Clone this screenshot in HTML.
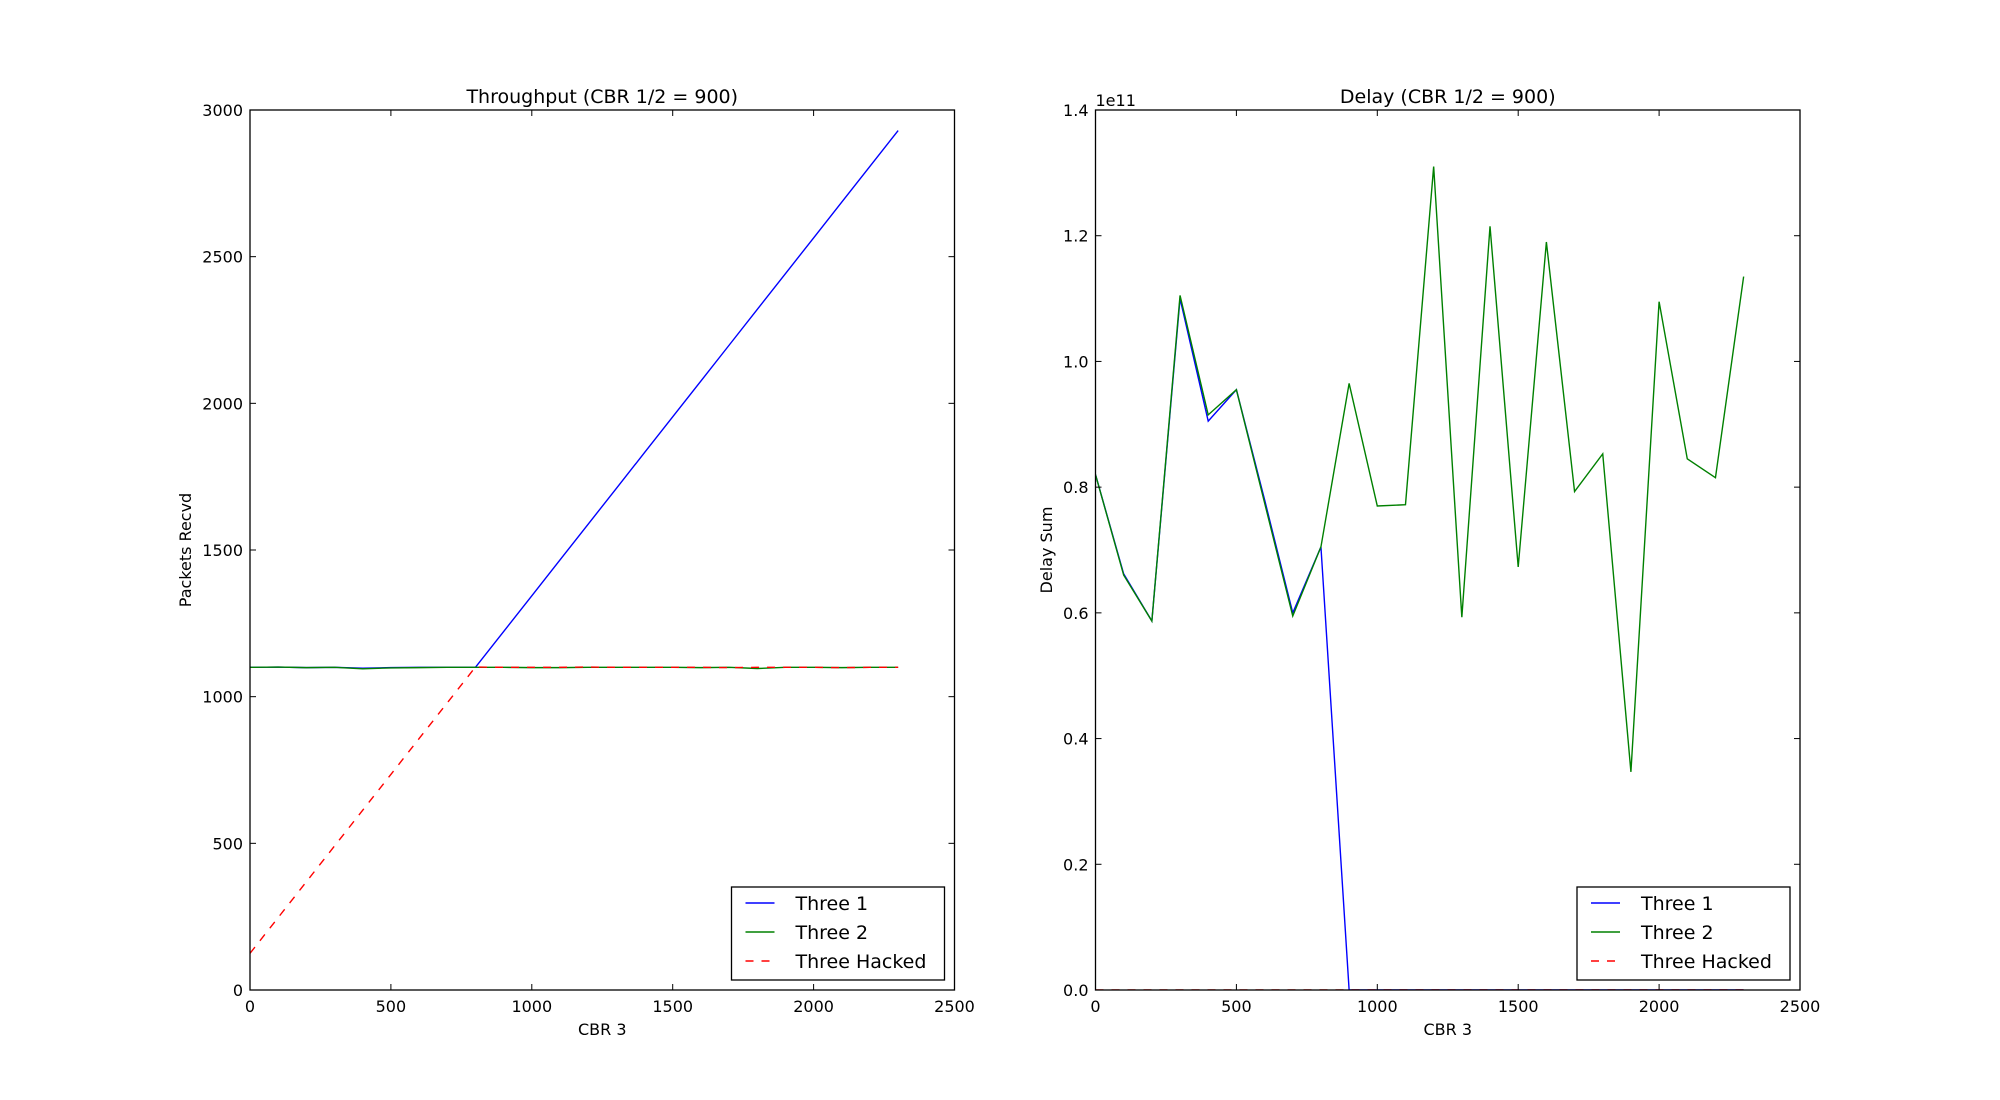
<!DOCTYPE html>
<html><head><meta charset="utf-8"><style>
body{margin:0;background:#fff}
svg{display:block;font-family:"DejaVu Sans","Liberation Sans",sans-serif}
</style></head><body>
<svg id="fig" width="2000" height="1100" viewBox="0 0 2000 1100" xmlns="http://www.w3.org/2000/svg">
<rect width="2000" height="1100" fill="#fff"/>
</svg>
<script>
const xs = [0,100,200,300,400,500,600,700,800,900,1000,1100,1200,1300,1400,1500,1600,1700,1800,1900,2000,2100,2200,2300];
const tpThree1 = [1100,1101,1099,1100,1097,1099,1100,1100,1100,1222,1344,1466,1588,1710,1832,1954,2076,2198,2320,2442,2564,2686,2808,2930];
const tpThree2 = [1100,1101,1099,1100,1095,1098,1099,1100,1100,1100,1099,1099,1100,1100,1100,1100,1099,1100,1096,1100,1100,1099,1100,1100];
const tpHacked = [125,247,369,491,613,735,857,979,1101,1100,1100,1100,1101,1100,1100,1100,1100,1099,1100,1100,1100,1099,1100,1100];
const dlThree1 = [8.2,6.62,5.87,11.0,9.05,9.55,7.8,6.0,7.05,0,0,0,0,0,0,0,0,0,0,0,0,0,0,0];
const dlThree2 = [8.2,6.6,5.87,11.05,9.15,9.55,7.75,5.95,7.05,9.65,7.7,7.72,13.1,5.93,12.15,6.73,11.9,7.93,8.53,3.47,10.95,8.45,8.15,11.35];
const dlHacked = [0,0,0,0,0,0,0,0,0,0,0,0,0,0,0,0,0,0,0,0,0,0,0,0];
const xTicks = [0,500,1000,1500,2000,2500];
const tpYTicks = [0,500,1000,1500,2000,2500,3000];
const dlYTicks = [0,2,4,6,8,10,12,14];
const dlYLabels = ["0.0","0.2","0.4","0.6","0.8","1.0","1.2","1.4"];
const legendLabels = ["Three 1","Three 2","Three Hacked"];

const NS="http://www.w3.org/2000/svg";
const svg=document.getElementById('fig');
function mk(tag,attrs,parent){const e=document.createElementNS(NS,tag);for(const k in attrs)e.setAttribute(k,attrs[k]);(parent||svg).appendChild(e);return e;}

function drawAxes(cfg){
  const {L,R,T,B,yMax,yTicks,yLabels,title,ylabel,series,name,offsetText}=cfg;
  const g=mk('g',{});
  
  
  const sx=v=>L+(v-0)/2500*(R-L);
  const sy=v=>B-v/yMax*(B-T);
  const cid='clip-'+name;
  const cp=mk('clipPath',{id:cid},g);mk('rect',{x:L,y:T,width:R-L,height:B-T},cp);
  const colors=['#0000ff','#008000','#ff0000'];
  series.forEach((s,i)=>{
    const d=xs.map((x,j)=>(j?'L':'M')+sx(x).toFixed(2)+' '+sy(s[j]).toFixed(2)).join(' ');
    const p=mk('path',{d:d,fill:'none',stroke:colors[i],'stroke-width':1.4,'clip-path':'url(#'+cid+')'},g);
    if(i===2)p.setAttribute('stroke-dasharray','8 8');
    
    
  });
  const fr=mk('rect',{x:L,y:T,width:R-L,height:B-T,fill:'none',stroke:'#000','stroke-width':1.3},g);
  
  
  xTicks.forEach(v=>{
    const x=sx(v);
    mk('line',{x1:x,x2:x,y1:B,y2:B-6,stroke:'#000','stroke-width':1},g);
    mk('line',{x1:x,x2:x,y1:T,y2:T+6,stroke:'#000','stroke-width':1},g);
    const t=mk('text',{x:x,y:B+22,'text-anchor':'middle','font-size':16},g);
    t.textContent=v;
    
    
  });
  yTicks.forEach((v,i)=>{
    const y=sy(v);
    mk('line',{x1:L,x2:L+6,y1:y,y2:y,stroke:'#000','stroke-width':1},g);
    mk('line',{x1:R,x2:R-6,y1:y,y2:y,stroke:'#000','stroke-width':1},g);
    const t=mk('text',{x:L-7,y:y+6,'text-anchor':'end','font-size':16},g);
    t.textContent=yLabels?yLabels[i]:v;
    
    
  });
  const tt=mk('text',{x:(L+R)/2,y:T-7,'text-anchor':'middle','font-size':19},g);
  tt.textContent=title;
  
  
  const xl=mk('text',{x:(L+R)/2,y:B+45,'text-anchor':'middle','font-size':16},g);
  xl.textContent='CBR 3';
  
  
  const ycx=cfg.ylabelX, ycy=(T+B)/2;
  const yl=mk('text',{x:ycx,y:ycy,'text-anchor':'middle','font-size':16,transform:'rotate(-90 '+ycx+' '+ycy+')'},g);
  yl.textContent=ylabel;
  
  
  if(offsetText){
    const ot=mk('text',{x:L,y:T-4,'font-size':16},g);
    ot.textContent=offsetText;
    
    
  }
  const lg=mk('g',{},g);
  
  
  const lx=R-223, ly=B-103;
  mk('rect',{x:lx,y:ly,width:213,height:93,fill:'#fff',stroke:'#000','stroke-width':1.3},lg);
  legendLabels.forEach((lab,i)=>{
    const cy=ly+16+i*29;
    const ent=mk('g',{},lg);
    
    
    const ln=mk('line',{x1:lx+14,x2:lx+43,y1:cy,y2:cy,stroke:colors[i],'stroke-width':1.4},ent);
    if(i===2)ln.setAttribute('stroke-dasharray','8 8');
    const t=mk('text',{x:lx+64,y:cy+7,'font-size':19},ent);
    t.textContent=lab;
  });
}

drawAxes({L:250,R:954.5,T:110,B:990,yMax:3000,yTicks:tpYTicks,title:'Throughput (CBR 1/2 = 900)',ylabel:'Packets Recvd',series:[tpThree1,tpThree2,tpHacked],name:'throughput-chart',ylabelX:191});
drawAxes({L:1095.5,R:1800,T:110,B:990,yMax:14,yTicks:dlYTicks,yLabels:dlYLabels,title:'Delay (CBR 1/2 = 900)',ylabel:'Delay Sum',series:[dlThree1,dlThree2,dlHacked],name:'delay-chart',ylabelX:1052,offsetText:'1e11'});
</script>
</body></html>
